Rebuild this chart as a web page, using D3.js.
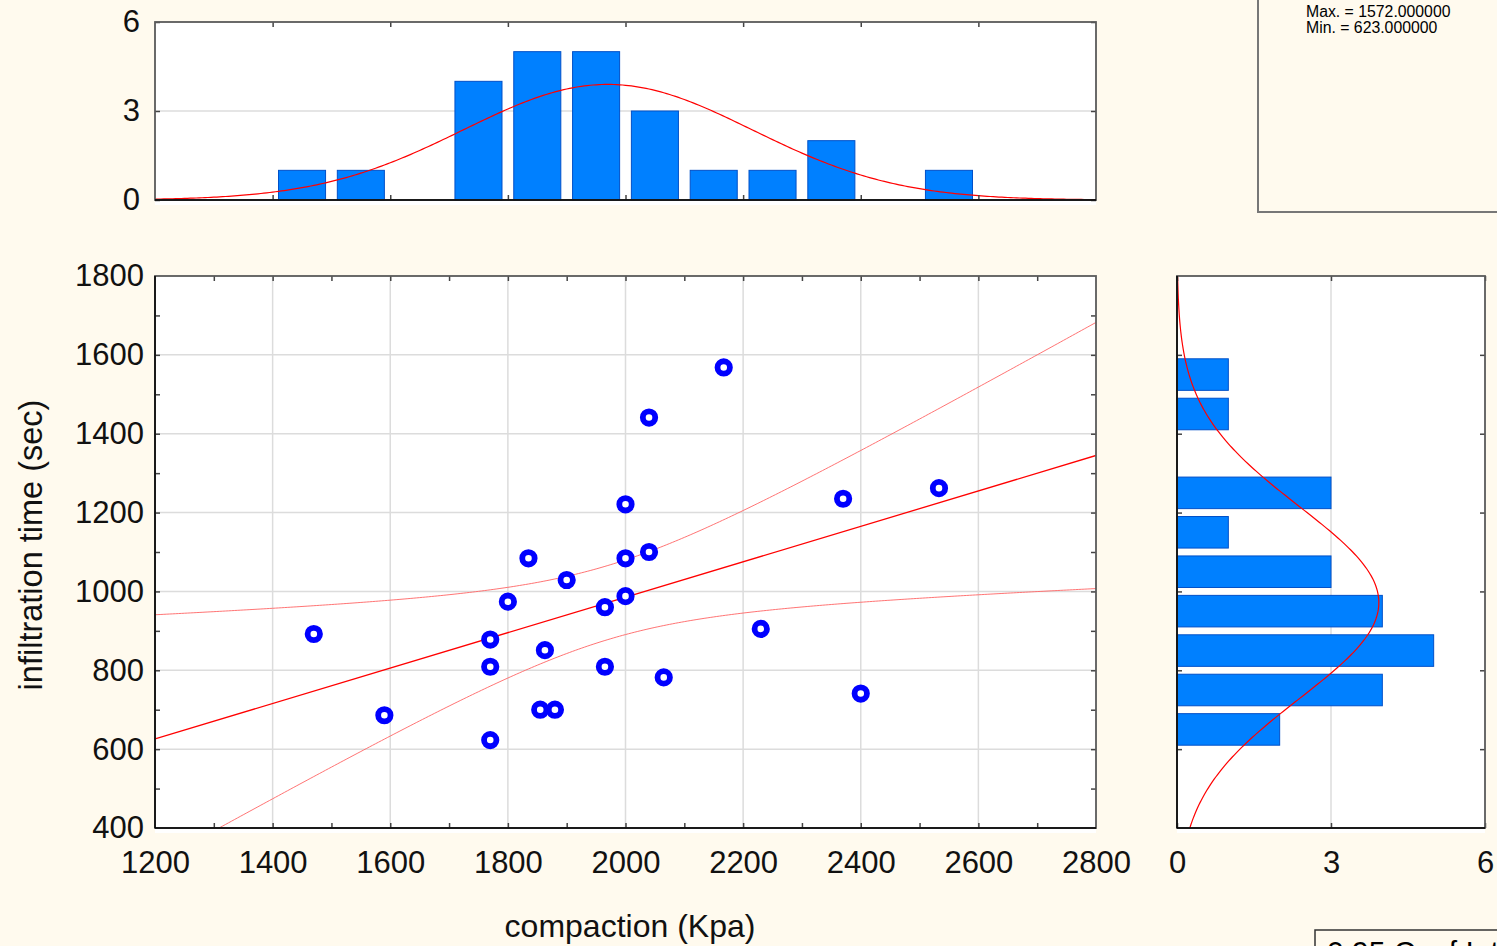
<!DOCTYPE html>
<html>
<head>
<meta charset="utf-8">
<script src="https://cdn.jsdelivr.net/npm/d3@7"></script>
<style>
  body { margin: 0; background: #fffaee; }
  svg { display: block; font-family: "Liberation Sans", Arial, sans-serif; }
</style>
</head>
<body>
<svg id="chart" width="1497" height="946"></svg>
<script>
// data
const compaction = [1470, 1590, 1770, 1770, 1770, 1800, 1835, 1855, 1880, 1863, 1900, 1965,
                    1965, 2000, 2000, 2000, 2040, 2040, 2065, 2167, 2230, 2370, 2400, 2533];
const infiltration = [892, 686, 878, 809, 623, 974, 1084, 700, 700, 851, 1029, 960,
                      809, 1221, 1084, 988, 1441, 1100, 782, 1568, 905, 1235, 741, 1262];

// histogram of compaction (bins of 100)
const xBinStarts = [1400, 1500, 1600, 1700, 1800, 1900, 2000, 2100, 2200, 2300, 2400, 2500];
const xBinCounts = [1, 1, 0, 4, 5, 5, 3, 1, 1, 2, 0, 1];
// histogram of infiltration time (bins of 100)
const yBinStarts = [600, 700, 800, 900, 1000, 1100, 1200, 1300, 1400, 1500];
const yBinCounts = [2, 4, 5, 4, 3, 1, 3, 0, 1, 1];

const xTicks = [1200, 1400, 1600, 1800, 2000, 2200, 2400, 2600, 2800];
const yTicks = [400, 600, 800, 1000, 1200, 1400, 1600, 1800];
const countTicks = [0, 3, 6];

const svg = d3.select("#chart");

const x = d3.scaleLinear().domain([1200, 2800]).range([155, 1096]);
const y = d3.scaleLinear().domain([400, 1800]).range([828, 276]);
const hy = d3.scaleLinear().domain([0, 6]).range([200, 22]);
const hx = d3.scaleLinear().domain([0, 6]).range([1177, 1485]);
const fmt = d3.format("d");

const gridColor = "#dcdcdc";
const frameColor = "#5a5a5a";
const barFill = "#0080ff";
const barStroke = "#0050c8";

// stats
const n = compaction.length;
const mx = d3.mean(compaction), my = d3.mean(infiltration);
const sdx = d3.deviation(compaction), sdy = d3.deviation(infiltration);
let sxx = 0, sxy = 0;
compaction.forEach((v, i) => { sxx += (v - mx) ** 2; sxy += (v - mx) * (infiltration[i] - my); });
const slope = sxy / sxx, icpt = my - slope * mx;
let sse = 0;
compaction.forEach((v, i) => { sse += (infiltration[i] - (icpt + slope * v)) ** 2; });
const s = Math.sqrt(sse / (n - 2));
const tval = 2.0739;

function normal(v, m, sd) {
  return n * 100 / (sd * Math.sqrt(2 * Math.PI)) * Math.exp(-0.5 * ((v - m) / sd) ** 2);
}

function styleTicks(g) {
  g.select(".domain").remove();
  g.selectAll("line").attr("stroke", "#444").attr("stroke-width", 1.5);
  g.selectAll("text").attr("font-size", 31).attr("fill", "#111").attr("font-family", null);
}

// ---------- top histogram ----------
const topHist = svg.append("g");
topHist.append("rect").attr("x", 155).attr("y", 22).attr("width", 941).attr("height", 183).attr("fill", "white");
topHist.append("line").attr("x1", 155).attr("x2", 1096).attr("y1", hy(3)).attr("y2", hy(3))
  .attr("stroke", gridColor).attr("stroke-width", 1.5);

topHist.selectAll(".xbar").data(xBinStarts).enter().append("rect")
  .attr("x", d => x(d + 10))
  .attr("y", (d, i) => hy(xBinCounts[i]))
  .attr("width", d => x(d + 90) - x(d + 10))
  .attr("height", (d, i) => hy(0) - hy(xBinCounts[i]))
  .attr("fill", barFill).attr("stroke", barStroke).attr("stroke-width", 1);

const xs = d3.range(1200, 2801, 5);
topHist.append("path")
  .datum(xs)
  .attr("d", d3.line().x(d => x(d)).y(d => hy(normal(d, mx, sdx))))
  .attr("fill", "none").attr("stroke", "#ff0000").attr("stroke-width", 1.2);

topHist.append("g").attr("transform", "translate(0,22)")
  .call(d3.axisTop(x).tickValues(xTicks.slice(1, -1)).tickSize(-5).tickFormat("")).call(styleTicks);
topHist.append("g").attr("transform", "translate(0,200)")
  .call(d3.axisBottom(x).tickValues(xTicks.slice(1, -1)).tickSize(-5).tickFormat("")).call(styleTicks);
topHist.append("g").attr("transform", "translate(155,0)")
  .call(d3.axisLeft(hy).tickValues(countTicks).tickSize(-5).tickPadding(15).tickFormat(fmt)).call(styleTicks);
topHist.append("g").attr("transform", "translate(1096,0)")
  .call(d3.axisRight(hy).tickValues(countTicks).tickSize(-5).tickFormat("")).call(styleTicks);
topHist.append("rect").attr("x", 155).attr("y", 22).attr("width", 941).attr("height", 178)
  .attr("fill", "none").attr("stroke", frameColor).attr("stroke-width", 1.8);
topHist.append("line").attr("x1", 155).attr("x2", 1096).attr("y1", 200).attr("y2", 200)
  .attr("stroke", "black").attr("stroke-width", 1.5);

// ---------- scatter ----------
const sc = svg.append("g");
sc.append("rect").attr("x", 155).attr("y", 276).attr("width", 941).attr("height", 557).attr("fill", "white");
sc.selectAll(".vg").data(xTicks.slice(1, -1)).enter().append("line")
  .attr("x1", d => x(d)).attr("x2", d => x(d)).attr("y1", 276).attr("y2", 828)
  .attr("stroke", gridColor).attr("stroke-width", 1.5);
sc.selectAll(".hg").data(yTicks.slice(1, -1)).enter().append("line")
  .attr("y1", d => y(d)).attr("y2", d => y(d)).attr("x1", 155).attr("x2", 1096)
  .attr("stroke", gridColor).attr("stroke-width", 1.5);

const clip = svg.append("clipPath").attr("id", "plotclip");
clip.append("rect").attr("x", 155).attr("y", 276).attr("width", 941).attr("height", 552);

const band = sc.append("g").attr("clip-path", "url(#plotclip)");
const half = v => tval * s * Math.sqrt(1 / n + (v - mx) ** 2 / sxx);
band.append("path").datum(xs)
  .attr("d", d3.line().x(d => x(d)).y(d => y(icpt + slope * d + half(d))))
  .attr("fill", "none").attr("stroke", "#ff6464").attr("stroke-width", 0.9);
band.append("path").datum(xs)
  .attr("d", d3.line().x(d => x(d)).y(d => y(icpt + slope * d - half(d))))
  .attr("fill", "none").attr("stroke", "#ff6464").attr("stroke-width", 0.9);
band.append("path").datum([1200, 2800])
  .attr("d", d3.line().x(d => x(d)).y(d => y(icpt + slope * d)))
  .attr("fill", "none").attr("stroke", "#ff0000").attr("stroke-width", 1.3);

sc.selectAll(".pt").data(compaction).enter().append("circle")
  .attr("cx", d => x(d))
  .attr("cy", (d, i) => y(infiltration[i]))
  .attr("r", 6.2)
  .attr("fill", "white").attr("stroke", "#0000ff").attr("stroke-width", 5.8);

const minorX = d3.range(1300, 2800, 100);
const minorY = d3.range(500, 1800, 100);
sc.append("g").attr("transform", "translate(0,828)")
  .call(d3.axisBottom(x).tickValues(xTicks).tickSize(0).tickPadding(23).tickFormat(fmt)).call(styleTicks);
sc.append("g").attr("transform", "translate(0,828)")
  .call(d3.axisBottom(x).tickValues(minorX).tickSize(-5).tickFormat("")).call(styleTicks);
sc.append("g").attr("transform", "translate(0,276)")
  .call(d3.axisTop(x).tickValues(minorX).tickSize(-5).tickFormat("")).call(styleTicks);
sc.append("g").attr("transform", "translate(155,0)")
  .call(d3.axisLeft(y).tickValues(yTicks).tickSize(0).tickPadding(11).tickFormat(fmt)).call(styleTicks);
sc.append("g").attr("transform", "translate(155,0)")
  .call(d3.axisLeft(y).tickValues(minorY).tickSize(-5).tickFormat("")).call(styleTicks);
sc.append("g").attr("transform", "translate(1096,0)")
  .call(d3.axisRight(y).tickValues(minorY).tickSize(-5).tickFormat("")).call(styleTicks);
sc.append("rect").attr("x", 155).attr("y", 276).attr("width", 941).attr("height", 552)
  .attr("fill", "none").attr("stroke", frameColor).attr("stroke-width", 1.8);
sc.append("line").attr("x1", 155).attr("x2", 155).attr("y1", 276).attr("y2", 828)
  .attr("stroke", "black").attr("stroke-width", 1.5);
sc.append("line").attr("x1", 155).attr("x2", 1096).attr("y1", 828).attr("y2", 828)
  .attr("stroke", "black").attr("stroke-width", 1.5);

// ---------- right histogram ----------
const rh = svg.append("g");
rh.append("rect").attr("x", 1177).attr("y", 276).attr("width", 308).attr("height", 557).attr("fill", "white");
rh.append("line").attr("x1", hx(3)).attr("x2", hx(3)).attr("y1", 276).attr("y2", 828)
  .attr("stroke", gridColor).attr("stroke-width", 1.5);
rh.selectAll(".ybar").data(yBinStarts).enter().append("rect")
  .attr("x", hx(0))
  .attr("y", d => y(d + 90))
  .attr("width", (d, i) => hx(yBinCounts[i]) - hx(0))
  .attr("height", d => y(d + 10) - y(d + 90))
  .attr("fill", barFill).attr("stroke", barStroke).attr("stroke-width", 1);
const ys = d3.range(400, 1801, 5);
rh.append("path").datum(ys)
  .attr("d", d3.line().y(d => y(d)).x(d => hx(normal(d, my, sdy))))
  .attr("fill", "none").attr("stroke", "#ff0000").attr("stroke-width", 1.2);
rh.append("g").attr("transform", "translate(0,828)")
  .call(d3.axisBottom(hx).tickValues(countTicks).tickSize(-5).tickPadding(23).tickFormat(fmt)).call(styleTicks);
rh.append("g").attr("transform", "translate(0,276)")
  .call(d3.axisTop(hx).tickValues(countTicks).tickSize(-5).tickFormat("")).call(styleTicks);
rh.append("g").attr("transform", "translate(1177,0)")
  .call(d3.axisLeft(y).tickValues(yTicks.slice(1, -1)).tickSize(-5).tickFormat("")).call(styleTicks);
rh.append("g").attr("transform", "translate(1485,0)")
  .call(d3.axisRight(y).tickValues(yTicks.slice(1, -1)).tickSize(-5).tickFormat("")).call(styleTicks);
rh.append("rect").attr("x", 1177).attr("y", 276).attr("width", 308).attr("height", 552)
  .attr("fill", "none").attr("stroke", frameColor).attr("stroke-width", 1.8);
rh.append("line").attr("x1", 1177).attr("x2", 1177).attr("y1", 276).attr("y2", 828)
  .attr("stroke", "black").attr("stroke-width", 1.5);
rh.append("line").attr("x1", 1177).attr("x2", 1485).attr("y1", 828).attr("y2", 828)
  .attr("stroke", "black").attr("stroke-width", 1.5);

// ---------- titles ----------
svg.append("text").attr("x", 630).attr("y", 937).attr("text-anchor", "middle")
  .attr("font-size", 32).attr("fill", "#111").text("compaction (Kpa)");
svg.append("text").attr("transform", "translate(42,545) rotate(-90)").attr("text-anchor", "middle")
  .attr("font-size", 32.5).attr("fill", "#111").text("infiltration time (sec)");

// ---------- summary box, top right ----------
svg.append("rect").attr("x", 1258).attr("y", -10).attr("width", 260).attr("height", 222)
  .attr("fill", "#fffaee").attr("stroke", "#777").attr("stroke-width", 2);
svg.append("text").attr("x", 1306).attr("y", 17).attr("font-size", 15.8).text("Max. = 1572.000000");
svg.append("text").attr("x", 1306).attr("y", 33).attr("font-size", 15.8).text("Min. = 623.000000");

// ---------- confidence legend box, bottom right ----------
svg.append("rect").attr("x", 1315).attr("y", 930).attr("width", 200).attr("height", 40)
  .attr("fill", "#fffaee").attr("stroke", "#333").attr("stroke-width", 1.5);
svg.append("text").attr("x", 1327).attr("y", 962).attr("font-size", 30).text("0.95 Conf.Int.");
</script>
</body>
</html>
